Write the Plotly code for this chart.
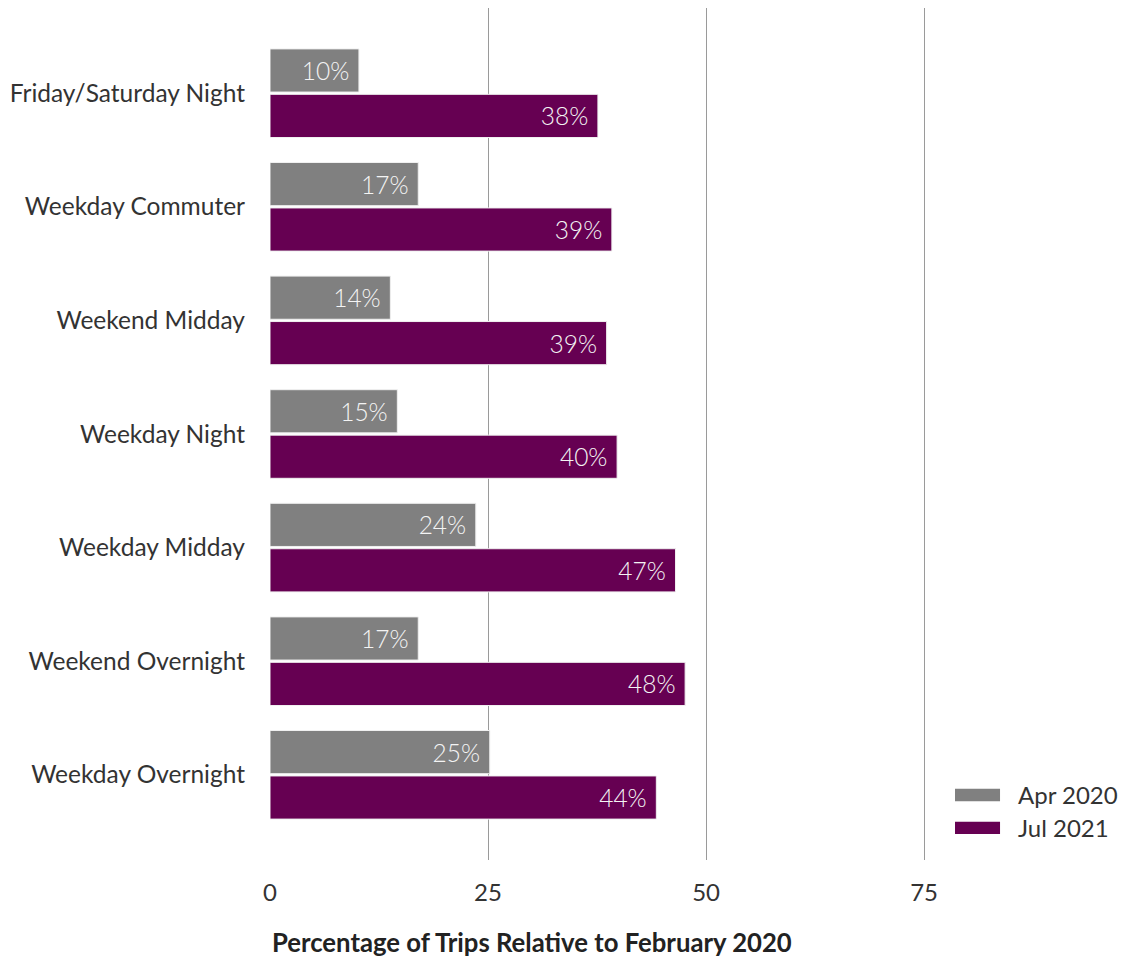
import plotly.graph_objects as go

categories = ["Friday/Saturday Night", "Weekday Commuter", "Weekend Midday",
              "Weekday Night", "Weekday Midday", "Weekend Overnight", "Weekday Overnight"]
apr_2020 = [10.2, 17.0, 13.8, 14.6, 23.6, 17.0, 25.2]
jul_2021 = [37.6, 39.2, 38.6, 39.8, 46.5, 47.6, 44.3]
series_names = ["Apr 2020", "Jul 2021"]
x_ticks = [0, 25, 50, 75]
x_title = "Percentage of Trips Relative to February 2020"

GREY = "#808080"
PURPLE = "#660052"
FONT = "Lato"
LIGHT_FONT = "Lato Light, Lato"
colors = [GREY, PURPLE]

fig = go.Figure()
for name, vals, col in zip(series_names, [apr_2020, jul_2021], colors):
    fig.add_trace(go.Bar(
        y=categories, x=vals, orientation="h", name=name,
        marker=dict(color=col, line=dict(color="#f0f0f0", width=1)),
        texttemplate="%{x:.0f}% ", textposition="inside", insidetextanchor="end",
        textfont=dict(color="#f4f4f4", size=24.5, family=LIGHT_FONT),
        showlegend=False,
    ))

# manual legend (swatches + labels)
leg_y = [0.0763, 0.0376]
for name, col, yy in zip(series_names, colors, leg_y):
    fig.add_shape(type="rect", xref="paper", yref="paper",
                  x0=0.791, x1=0.843, y0=yy - 0.0072, y1=yy + 0.0072,
                  fillcolor=col, line=dict(width=0))
    fig.add_annotation(xref="paper", yref="paper", x=0.862, y=yy,
                       xanchor="left", yanchor="middle", text=name, showarrow=False,
                       font=dict(size=24, color="#333333", family=FONT))

fig.add_annotation(xref="paper", yref="paper", x=0, y=-0.096,
                   xanchor="left", yanchor="middle", showarrow=False,
                   text="<b>" + x_title + "</b>",
                   font=dict(size=25.7, color="#222222", family=FONT))

fig.update_layout(
    width=1128, height=956,
    margin=dict(l=262, r=0, t=0, b=104),
    paper_bgcolor="white", plot_bgcolor="white",
    font=dict(family=FONT, color="#333333", size=24),
    barmode="group", bargap=0.2, bargroupgap=0.05,
    showlegend=False,
    xaxis=dict(range=[0, 99.3], tickvals=x_ticks, showgrid=True,
               gridcolor="#9a9a9a", gridwidth=1.2, zeroline=False,
               showline=False, ticks="", ticklabelstandoff=16,
               tickfont=dict(size=24, color="#333333"), automargin=False),
    yaxis=dict(categoryorder="array", categoryarray=categories, autorange=False,
               range=[6.75, -0.75], showgrid=False, zeroline=False, showline=False,
               ticks="", ticklabelstandoff=24,
               tickfont=dict(size=24.5, color="#333333"), automargin=False),
)

fig.write_html("out.html")
